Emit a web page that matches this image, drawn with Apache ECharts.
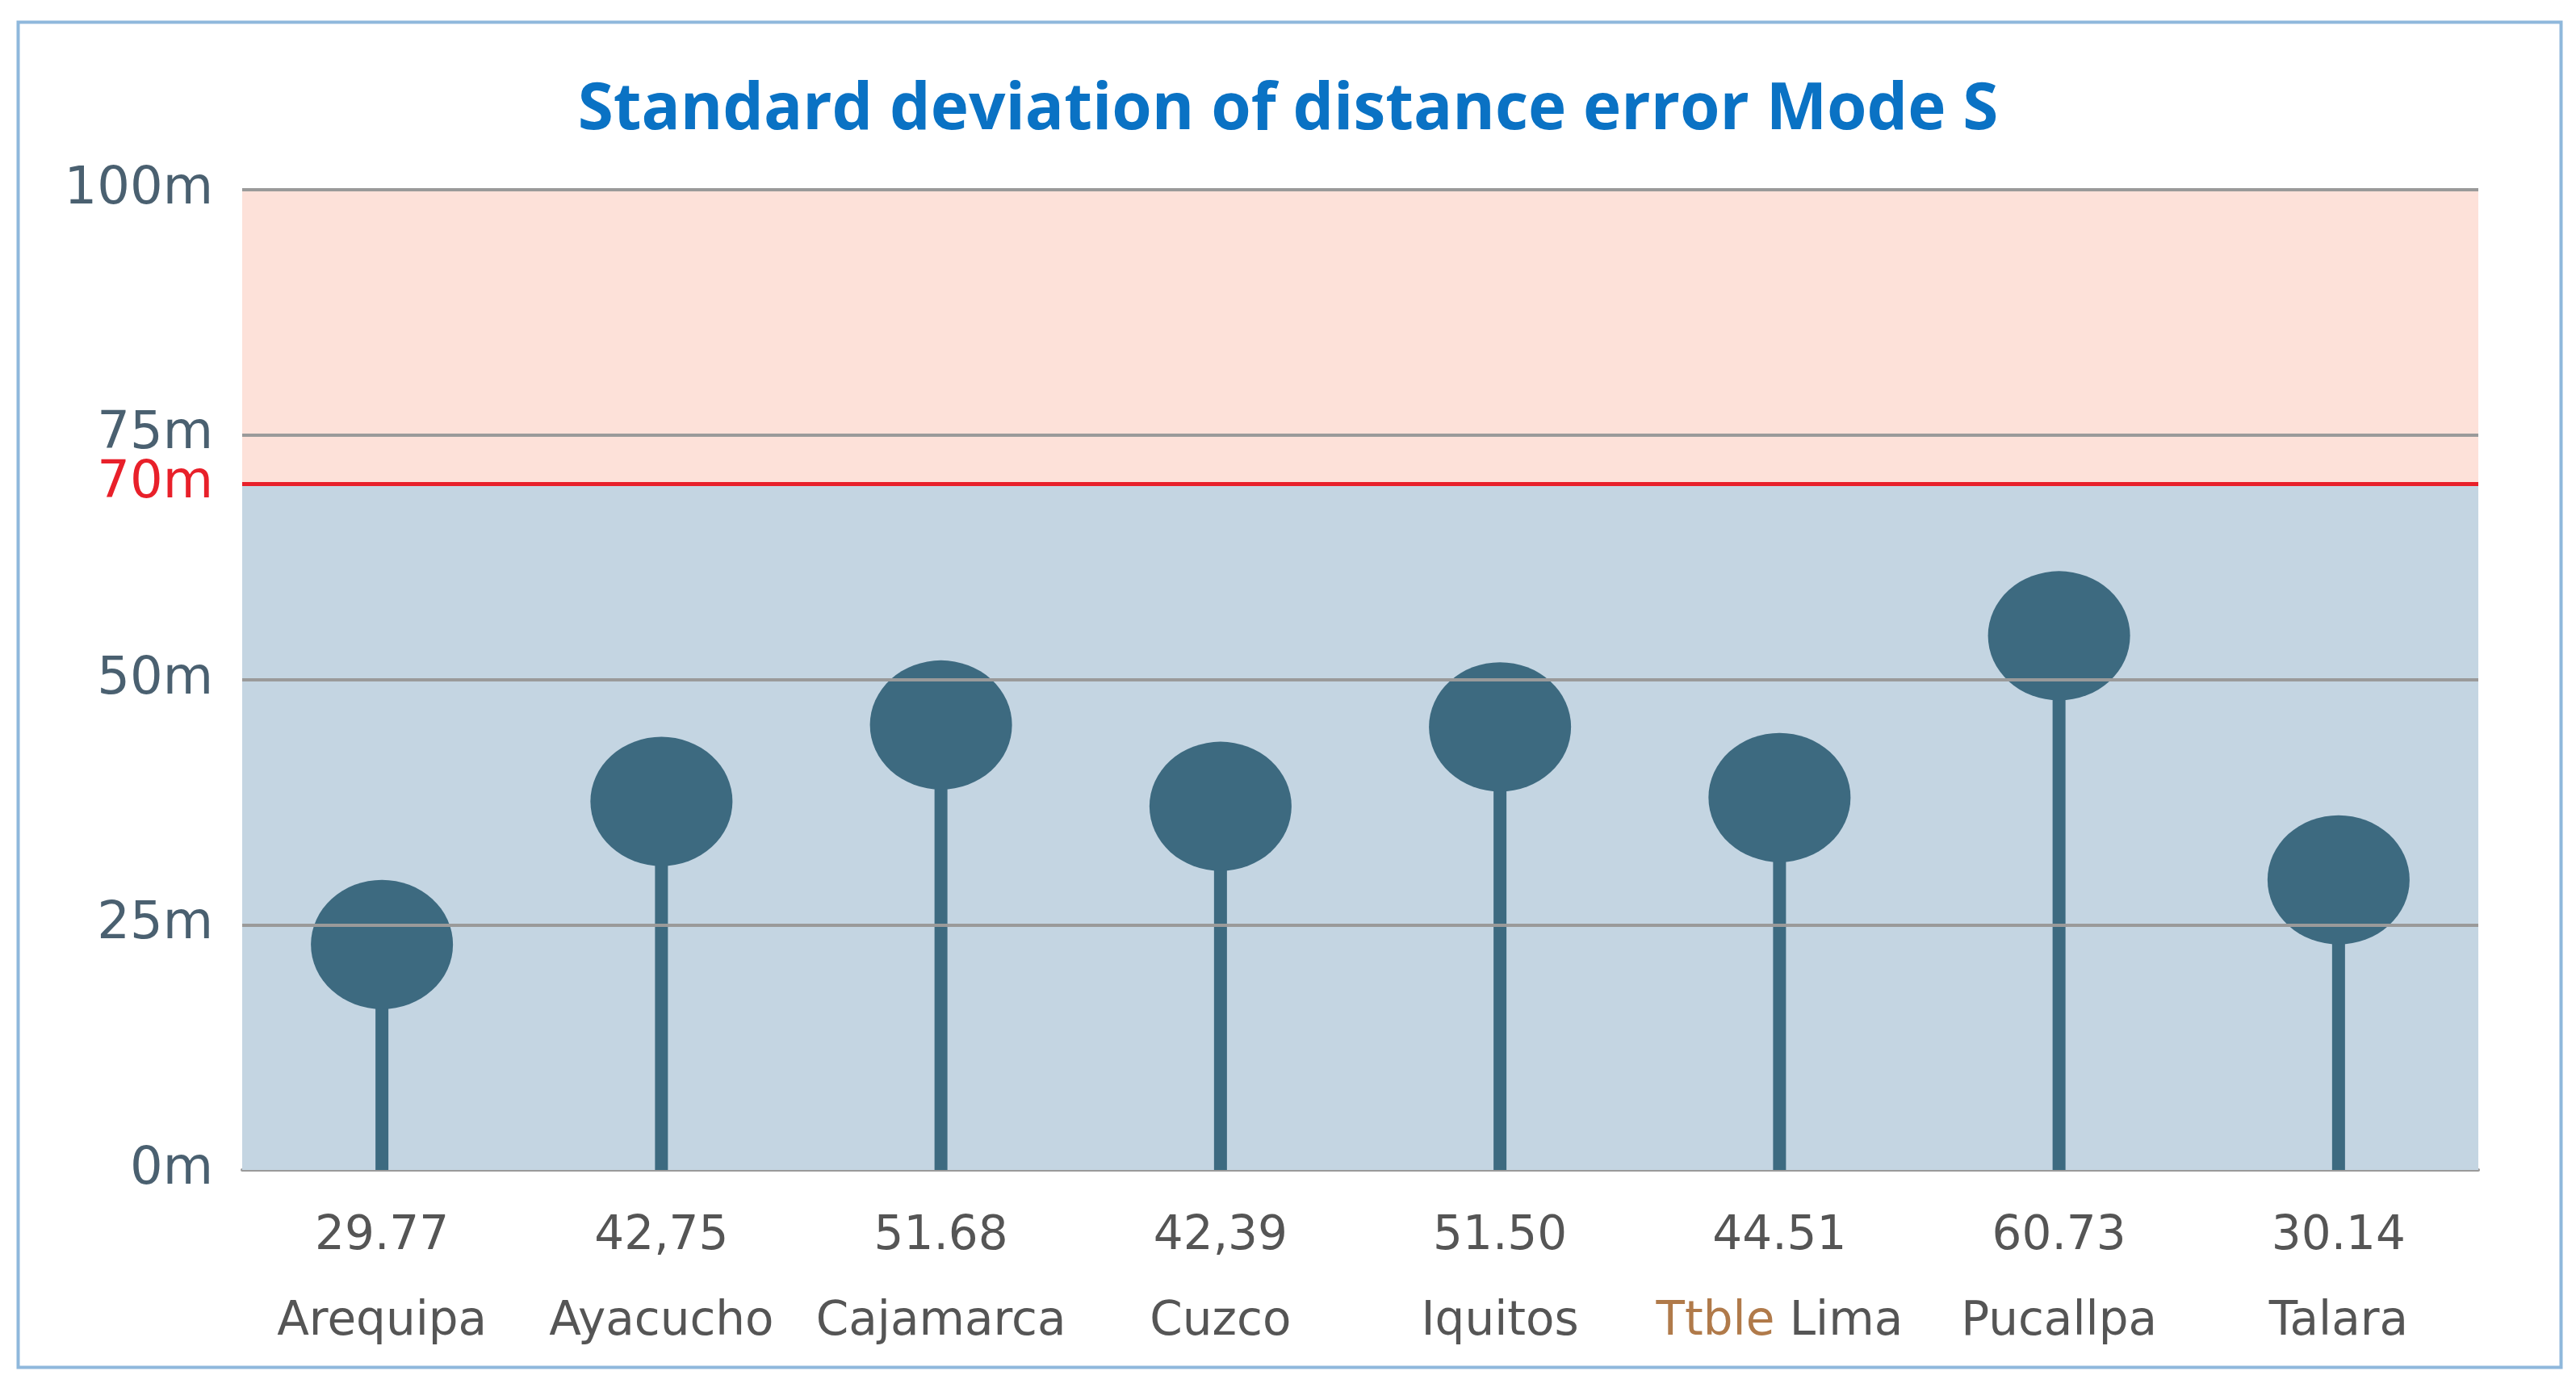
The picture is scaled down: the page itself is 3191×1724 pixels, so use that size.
<!DOCTYPE html>
<html style="height: 100%">
<head>
  <meta charset="utf-8">
  <title>Standard deviation of distance error Mode S</title>
</head>
<body style="height: 100%; margin: 0; background: #fff">
  <div id="container" style="height: 100%"></div>
  <script src="https://cdn.jsdelivr.net/npm/echarts@6/dist/echarts.min.js"></script>
  <script type="text/javascript">
    var stations = ['Arequipa', 'Ayacucho', 'Cajamarca', 'Cuzco', 'Iquitos', 'Lima', 'Pucallpa', 'Talara'];
    var valueLabels = ['29.77', '42,75', '51.68', '42,39', '51.50', '44.51', '60.73', '30.14'];
    // circle heights as drawn in the picture (m)
    var drawnValues = [23, 37.6, 45.4, 37.1, 45.2, 38, 54.5, 29.6];
    var yTicks = [25, 50, 75, 100];
    var limit = 70;

    var dom = document.getElementById("container");
    var myChart = echarts.init(dom);
    var stemColor = '#3d6a80';

    var gridLines = yTicks.map(function (t) {
      return { yAxis: t, lineStyle: { color: '#9a9a9a', width: 4, type: 'solid' }, label: { show: false } };
    });
    gridLines.push({
      yAxis: limit,
      lineStyle: { color: '#e8202a', width: 5, type: 'solid' },
      label: {
        show: true, position: 'start', formatter: limit + 'm', color: '#e8202a',
        fontSize: 64, distance: 36, fontFamily: 'DejaVu Sans'
      }
    });

    var option = {
      backgroundColor: '#fff',
      title: {
        text: 'Standard deviation of distance error Mode S',
        left: 'center', top: 92,
        textStyle: { color: '#0a72c4', fontSize: 80, fontWeight: 'bold', fontFamily: 'Open Sans' }
      },
      graphic: [{
        type: 'rect', left: 20, top: 25,
        shape: { width: 3150, height: 1666 },
        style: { fill: 'none', stroke: '#8fb8dc', lineWidth: 4 }
      }],
      grid: { left: 300, right: 121, top: 235, bottom: 275 },
      xAxis: {
        type: 'category',
        data: stations,
        axisTick: { show: false },
        axisLine: { lineStyle: { color: '#9a9a9a', width: 4 } },
        axisLabel: {
          interval: 0, margin: 30, lineHeight: 106,
          color: '#555', fontSize: 58, fontFamily: 'DejaVu Sans',
          formatter: function (v, i) {
            var name = v === 'Lima' ? '{t|Ttble} Lima' : v;
            return valueLabels[i] + '\n' + name;
          },
          rich: { t: { color: '#b07a4a', fontSize: 58, fontFamily: 'DejaVu Sans' } }
        }
      },
      yAxis: {
        type: 'value', min: 0, max: 100, interval: 25,
        axisLine: { show: false }, axisTick: { show: false },
        splitLine: { show: false },
        axisLabel: { formatter: '{value}m', color: '#4a6070', fontSize: 64, margin: 36, fontFamily: 'DejaVu Sans' }
      },
      series: [{
        type: 'bar',
        data: drawnValues,
        barWidth: 16,
        itemStyle: { color: stemColor },
        z: 3,
        markArea: {
          silent: true,
          data: [
            [{ yAxis: limit, itemStyle: { color: '#fde1d9' } }, { yAxis: 100 }],
            [{ yAxis: 0, itemStyle: { color: '#c4d5e2' } }, { yAxis: limit }]
          ]
        },
        markLine: {
          silent: true, symbol: 'none',
          data: gridLines
        }
      }, {
        type: 'scatter',
        data: drawnValues,
        symbol: 'circle',
        symbolSize: [176, 160],
        itemStyle: { color: stemColor, opacity: 1 },
        z: 4
      }]
    };
    myChart.setOption(option);
  </script>
</body>
</html>
